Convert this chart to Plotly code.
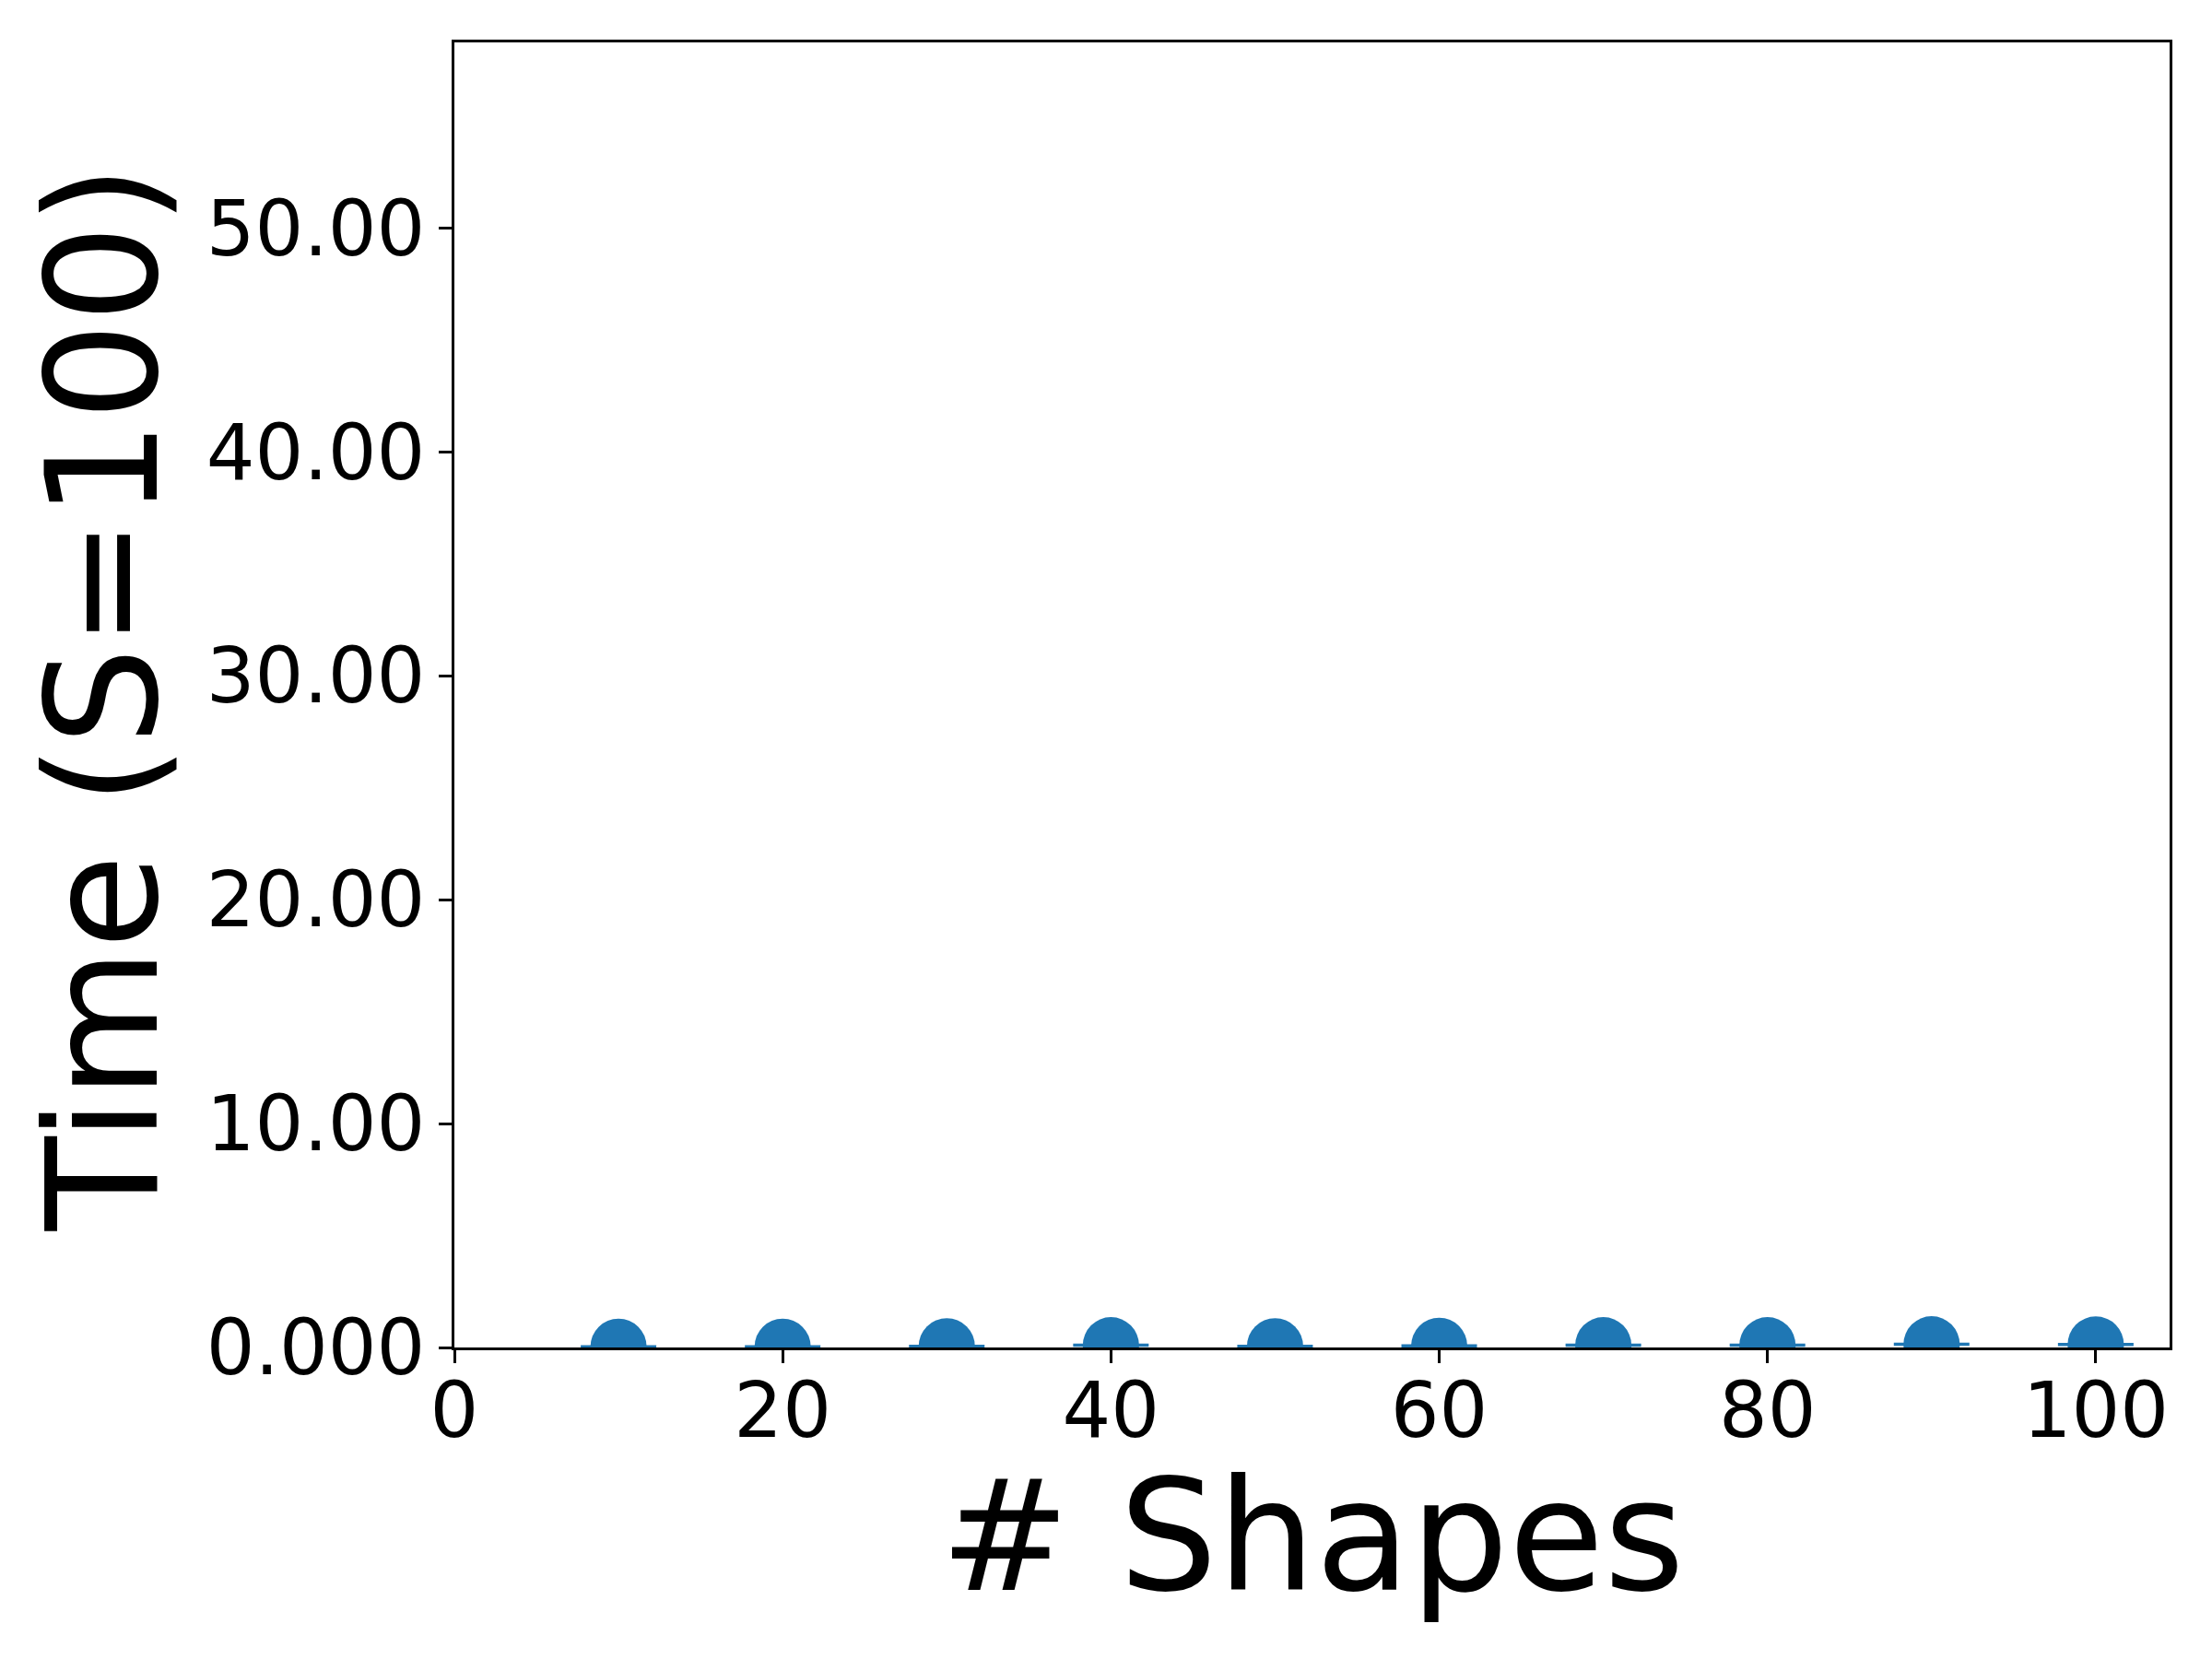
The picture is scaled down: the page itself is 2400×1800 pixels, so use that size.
import plotly.graph_objects as go

# data
n_shapes = [10, 20, 30, 40, 50, 60, 70, 80, 90, 100]
time_mean = [0.03, 0.03, 0.05, 0.10, 0.05, 0.07, 0.10, 0.10, 0.14, 0.13]
time_std = [0.01, 0.01, 0.01, 0.01, 0.01, 0.01, 0.01, 0.01, 0.01, 0.01]

y_ticks = [0, 10, 20, 30, 40, 50]
y_ticktext = ['0.000', '10.00', '20.00', '30.00', '40.00', '50.00']
x_ticks = [0, 20, 40, 60, 80, 100]

BLUE = '#1f77b4'
FONT = 'DejaVu Sans'

fig = go.Figure()

fig.add_trace(go.Scatter(
    x=n_shapes,
    y=time_mean,
    mode='markers',
    marker=dict(color=BLUE, size=61, symbol='circle', line=dict(width=0)),
    error_y=dict(type='data', array=time_std, visible=True,
                 color=BLUE, thickness=3, width=41),
    cliponaxis=True,
    showlegend=False,
))

axis_common = dict(
    showline=True,
    linecolor='black',
    linewidth=3,
    mirror=True,
    showgrid=False,
    zeroline=False,
    automargin=False,
    ticks='outside',
    ticklen=14,
    tickwidth=3,
    tickcolor='black',
    tickfont=dict(family=FONT, size=83, color='black'),
)

# axis titles as annotations so they sit where the reference has them
fig.add_annotation(
    text='# Shapes', xref='paper', yref='paper',
    x=0.5, y=-0.145, xanchor='center', yanchor='middle',
    showarrow=False, font=dict(family=FONT, size=168, color='black'),
)
fig.add_annotation(
    text='Time (S=100)', xref='paper', yref='paper',
    x=-0.205, y=0.498, xanchor='center', yanchor='middle', textangle=-90,
    showarrow=False, font=dict(family=FONT, size=167, color='black'),
)

# page body has an 8px margin, so the figure is a bit smaller than the window
fig.update_layout(
    width=2392,
    height=1792,
    paper_bgcolor='white',
    plot_bgcolor='white',
    margin=dict(l=485, r=46, t=38, b=338),
    font=dict(family=FONT, color='black'),
    xaxis=dict(
        range=[0, 104.5],
        tickvals=x_ticks,
        ticklabelstandoff=-20,
        **axis_common,
    ),
    yaxis=dict(
        range=[0, 58.3],
        tickvals=y_ticks,
        ticktext=y_ticktext,
        ticklabelstandoff=-2,
        **axis_common,
    ),
)

fig.write_html("out.html")
